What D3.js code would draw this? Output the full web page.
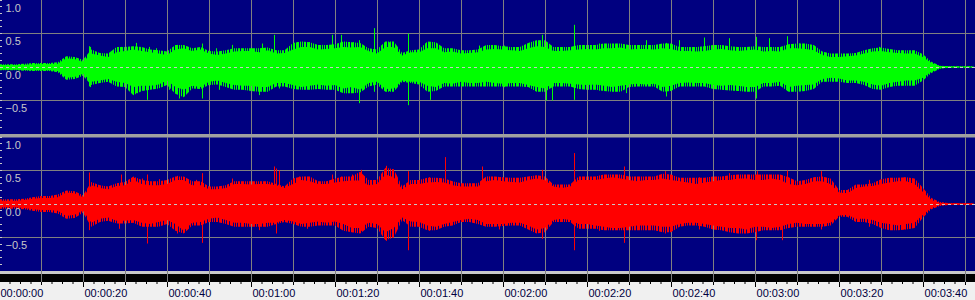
<!DOCTYPE html>
<html><head><meta charset="utf-8">
<script src="https://cdn.jsdelivr.net/npm/d3@7"></script>
<style>html,body{margin:0;padding:0;background:#f0f0f0;overflow:hidden}svg{display:block}</style>
</head><body><svg id="c" width="975" height="300"></svg>
<script>
// ---- DATA ----
const binSeconds = 2; // envelope sample spacing, seconds (t = 0..232)
// dense body of the waveform
const greenTop = [
 0.03,0.03,0.03,0.035,0.04,0.045,0.045,0.05,0.13,0.12,
 0.08,0.2,0.17,0.15,0.22,0.24,0.26,0.24,0.22,0.2,
 0.18,0.26,0.28,0.24,0.26,0.2,0.18,0.2,0.23,0.24,
 0.24,0.22,0.25,0.2,0.21,0.26,0.3,0.3,0.26,0.27,
 0.28,0.3,0.29,0.3,0.24,0.2,0.3,0.3,0.17,0.22,
 0.22,0.28,0.28,0.22,0.23,0.2,0.21,0.22,0.26,0.27,
 0.26,0.25,0.24,0.28,0.31,0.3,0.24,0.24,0.25,0.26,
 0.27,0.26,0.28,0.28,0.29,0.26,0.27,0.27,0.26,0.28,
 0.27,0.24,0.24,0.23,0.24,0.26,0.27,0.25,0.24,0.25,
 0.26,0.23,0.24,0.23,0.28,0.28,0.27,0.25,0.18,0.15,
 0.15,0.16,0.17,0.2,0.23,0.24,0.22,0.21,0.2,0.2,
 0.15,0.06,0.015,0.01,0.008,0.008,0.008];
const greenBottom = [
 -0.04,-0.04,-0.04,-0.045,-0.05,-0.05,-0.05,-0.06,-0.16,-0.15,
 -0.1,-0.22,-0.2,-0.18,-0.22,-0.24,-0.3,-0.28,-0.28,-0.26,
 -0.2,-0.3,-0.34,-0.28,-0.3,-0.22,-0.2,-0.24,-0.27,-0.28,
 -0.28,-0.3,-0.3,-0.24,-0.24,-0.27,-0.3,-0.28,-0.26,-0.28,
 -0.27,-0.32,-0.3,-0.34,-0.24,-0.22,-0.33,-0.32,-0.2,-0.22,
 -0.22,-0.28,-0.3,-0.24,-0.25,-0.22,-0.24,-0.24,-0.22,-0.24,
 -0.25,-0.24,-0.24,-0.27,-0.3,-0.32,-0.24,-0.24,-0.25,-0.26,
 -0.27,-0.26,-0.28,-0.3,-0.28,-0.26,-0.25,-0.26,-0.25,-0.3,
 -0.28,-0.24,-0.23,-0.24,-0.24,-0.27,-0.28,-0.27,-0.28,-0.3,
 -0.3,-0.24,-0.24,-0.22,-0.3,-0.28,-0.27,-0.26,-0.18,-0.16,
 -0.17,-0.2,-0.2,-0.22,-0.26,-0.28,-0.24,-0.22,-0.2,-0.2,
 -0.16,-0.07,-0.02,-0.01,-0.008,-0.008,-0.008];
const redTop = [
 0.05,0.05,0.05,0.06,0.08,0.09,0.09,0.1,0.17,0.16,
 0.1,0.28,0.24,0.22,0.27,0.28,0.36,0.3,0.28,0.28,
 0.3,0.36,0.36,0.28,0.28,0.22,0.22,0.24,0.3,0.3,
 0.29,0.3,0.3,0.28,0.24,0.3,0.36,0.34,0.3,0.3,
 0.32,0.34,0.35,0.35,0.28,0.3,0.44,0.4,0.22,0.3,
 0.3,0.32,0.33,0.32,0.28,0.26,0.26,0.26,0.34,0.36,
 0.34,0.33,0.32,0.36,0.38,0.36,0.26,0.24,0.26,0.36,
 0.36,0.36,0.38,0.4,0.38,0.36,0.34,0.36,0.36,0.38,
 0.36,0.34,0.32,0.3,0.32,0.34,0.36,0.36,0.38,0.38,
 0.36,0.36,0.38,0.36,0.3,0.28,0.3,0.34,0.34,0.3,
 0.17,0.16,0.24,0.26,0.27,0.3,0.32,0.34,0.34,0.3,
 0.18,0.06,0.02,0.01,0.01,0.01,0.01];
const redBottom = [
 -0.05,-0.05,-0.05,-0.06,-0.08,-0.09,-0.09,-0.1,-0.18,-0.16,
 -0.1,-0.28,-0.22,-0.2,-0.25,-0.25,-0.24,-0.28,-0.3,-0.27,
 -0.24,-0.3,-0.4,-0.28,-0.27,-0.22,-0.2,-0.24,-0.28,-0.28,
 -0.3,-0.3,-0.28,-0.28,-0.24,-0.26,-0.3,-0.28,-0.26,-0.28,
 -0.26,-0.3,-0.36,-0.36,-0.28,-0.3,-0.42,-0.36,-0.2,-0.26,
 -0.27,-0.32,-0.34,-0.3,-0.27,-0.24,-0.22,-0.24,-0.3,-0.3,
 -0.3,-0.28,-0.28,-0.32,-0.38,-0.36,-0.24,-0.22,-0.24,-0.3,
 -0.3,-0.32,-0.34,-0.36,-0.36,-0.34,-0.32,-0.32,-0.32,-0.34,
 -0.34,-0.3,-0.28,-0.28,-0.3,-0.32,-0.34,-0.36,-0.36,-0.38,
 -0.34,-0.34,-0.36,-0.34,-0.3,-0.28,-0.3,-0.3,-0.3,-0.28,
 -0.17,-0.16,-0.22,-0.22,-0.24,-0.28,-0.3,-0.32,-0.3,-0.28,
 -0.16,-0.06,-0.02,-0.01,-0.01,-0.01,-0.01];
// outer (sparse) peak envelope
const greenPeakTop = [
 0.04,0.04,0.04,0.05,0.06,0.06,0.06,0.07,0.16,0.15,
 0.11,0.26,0.21,0.2,0.3,0.3,0.31,0.3,0.26,0.25,
 0.23,0.33,0.33,0.28,0.3,0.24,0.23,0.25,0.28,0.28,
 0.28,0.28,0.29,0.25,0.25,0.36,0.38,0.37,0.33,0.33,
 0.34,0.38,0.37,0.36,0.28,0.26,0.38,0.38,0.21,0.25,
 0.26,0.38,0.37,0.28,0.28,0.25,0.25,0.26,0.33,0.33,
 0.31,0.3,0.3,0.36,0.4,0.4,0.3,0.3,0.3,0.33,
 0.33,0.33,0.35,0.35,0.35,0.33,0.33,0.33,0.33,0.35,
 0.35,0.3,0.3,0.3,0.31,0.33,0.33,0.31,0.3,0.3,
 0.31,0.3,0.3,0.3,0.34,0.35,0.35,0.33,0.23,0.2,
 0.2,0.2,0.21,0.25,0.28,0.29,0.27,0.25,0.25,0.25,
 0.19,0.08,0.02,0.012,0.01,0.01,0.01];
const greenPeakBottom = [
 -0.05,-0.05,-0.05,-0.055,-0.06,-0.06,-0.06,-0.08,-0.19,-0.18,
 -0.13,-0.27,-0.24,-0.22,-0.29,-0.3,-0.42,-0.36,-0.34,-0.32,
 -0.27,-0.4,-0.45,-0.32,-0.33,-0.27,-0.26,-0.3,-0.34,-0.34,
 -0.36,-0.37,-0.37,-0.29,-0.29,-0.33,-0.34,-0.34,-0.33,-0.34,
 -0.34,-0.39,-0.39,-0.38,-0.29,-0.26,-0.37,-0.37,-0.22,-0.24,
 -0.26,-0.37,-0.36,-0.29,-0.29,-0.29,-0.29,-0.29,-0.29,-0.29,
 -0.29,-0.29,-0.29,-0.3,-0.37,-0.37,-0.29,-0.29,-0.29,-0.33,
 -0.34,-0.34,-0.36,-0.37,-0.37,-0.3,-0.29,-0.29,-0.29,-0.37,
 -0.36,-0.29,-0.29,-0.29,-0.29,-0.33,-0.34,-0.35,-0.36,-0.37,
 -0.37,-0.29,-0.29,-0.28,-0.37,-0.37,-0.36,-0.33,-0.22,-0.22,
 -0.22,-0.24,-0.24,-0.27,-0.33,-0.34,-0.3,-0.28,-0.28,-0.28,
 -0.2,-0.09,-0.025,-0.012,-0.01,-0.01,-0.01];
const redPeakTop = [
 0.07,0.07,0.07,0.08,0.1,0.12,0.12,0.14,0.2,0.19,
 0.13,0.33,0.28,0.26,0.31,0.33,0.41,0.36,0.34,0.34,
 0.36,0.41,0.41,0.34,0.34,0.26,0.26,0.28,0.34,0.34,
 0.34,0.34,0.34,0.3,0.26,0.38,0.41,0.41,0.34,0.34,
 0.38,0.41,0.41,0.48,0.36,0.36,0.54,0.52,0.26,0.36,
 0.36,0.39,0.39,0.38,0.34,0.31,0.31,0.31,0.41,0.41,
 0.4,0.39,0.39,0.41,0.43,0.41,0.29,0.29,0.29,0.41,
 0.41,0.41,0.44,0.44,0.44,0.41,0.41,0.41,0.41,0.45,
 0.44,0.39,0.39,0.39,0.39,0.41,0.41,0.43,0.44,0.44,
 0.44,0.44,0.44,0.44,0.4,0.34,0.36,0.4,0.41,0.38,
 0.21,0.21,0.29,0.29,0.31,0.37,0.39,0.39,0.4,0.38,
 0.24,0.09,0.03,0.015,0.012,0.012,0.012];
const redPeakBottom = [
 -0.07,-0.07,-0.07,-0.08,-0.1,-0.12,-0.12,-0.14,-0.22,-0.21,
 -0.13,-0.34,-0.27,-0.25,-0.29,-0.29,-0.28,-0.34,-0.34,-0.34,
 -0.3,-0.4,-0.44,-0.32,-0.32,-0.27,-0.27,-0.3,-0.34,-0.34,
 -0.34,-0.34,-0.34,-0.3,-0.27,-0.3,-0.34,-0.34,-0.32,-0.32,
 -0.32,-0.4,-0.42,-0.44,-0.34,-0.36,-0.54,-0.5,-0.24,-0.34,
 -0.34,-0.39,-0.39,-0.34,-0.32,-0.27,-0.27,-0.3,-0.34,-0.34,
 -0.33,-0.32,-0.32,-0.38,-0.44,-0.42,-0.27,-0.27,-0.27,-0.37,
 -0.37,-0.37,-0.39,-0.39,-0.39,-0.39,-0.39,-0.39,-0.39,-0.42,
 -0.42,-0.34,-0.32,-0.32,-0.34,-0.38,-0.39,-0.42,-0.44,-0.44,
 -0.42,-0.39,-0.39,-0.39,-0.36,-0.34,-0.34,-0.34,-0.34,-0.32,
 -0.19,-0.19,-0.27,-0.27,-0.3,-0.36,-0.39,-0.39,-0.38,-0.36,
 -0.2,-0.08,-0.03,-0.015,-0.012,-0.012,-0.012];
// individual peaks: [seconds, top, bottom]
const greenSpikes = [
 [21.4,0.31,-0.29],[21.7,0.3,-0.3],[26.9,0.25,null],[29.0,0.3,null],[31.0,0.3,null],
 [32.6,0.36,-0.39],[35.2,0.22,-0.49],[35.7,0.3,null],[37.4,0.28,null],[40.5,null,-0.34],
 [42.4,0.33,-0.4],[42.9,null,-0.47],[44.8,0.3,null],[48.3,0.35,-0.47],[51.7,0.28,null],
 [52.4,null,-0.34],[55.5,0.33,null],[60.0,0.28,null],[61.9,null,-0.42],[62.6,0.35,null],
 [65.5,0.48,null],[66.7,null,-0.32],[71.0,0.37,null],[73.8,0.37,null],[75.5,null,-0.32],
 [76.9,0.33,null],[79.3,0.48,null],[81.4,0.48,null],[83.3,0.37,null],[84.3,0.37,-0.39],
 [85.7,0.4,-0.54],[89.3,0.58,-0.37],[92.9,0.37,-0.36],[97.4,0.5,-0.57],[102.6,0.35,-0.49],
 [114.3,0.32,null],[120.2,0.32,-0.3],[126.2,0.36,null],[129.3,0.48,null],[130.2,null,-0.5],
 [131.7,null,-0.5],[136.9,0.63,-0.49],[142.9,0.35,-0.35],[149.3,null,-0.39],[154.0,0.4,null],
 [158.8,0.36,-0.44],[161.9,0.4,null],[167.9,0.44,null],[173.8,0.43,-0.33],[180.2,0.45,-0.47],
 [183.3,0.43,null],[187.6,0.46,-0.36],[190.5,0.35,-0.36],[209.5,0.3,-0.33]];
const redSpikes = [
 [21.4,0.47,-0.39],[28.6,null,-0.37],[29.0,0.44,null],[32.1,0.39,null],[34.0,0.38,null],
 [35.2,0.44,-0.59],[38.1,0.37,null],[42.4,0.42,-0.44],[46.9,0.36,null],[48.3,0.46,-0.58],
 [55.5,0.38,null],[61.9,null,-0.39],[65.5,0.56,null],[66.0,0.53,-0.44],[66.7,0.5,null],
 [71.4,0.41,null],[73.3,null,-0.37],[79.3,0.44,null],[81.4,0.41,null],[84.0,0.44,-0.42],
 [86.2,0.51,-0.4],[92.1,0.57,-0.55],[97.4,0.49,-0.69],[102.4,0.4,-0.4],[106.2,0.7,null],
 [115.0,0.56,null],[119.0,0.4,-0.38],[129.3,0.51,-0.52],[136.9,0.76,-0.69],[142.9,0.42,-0.4],
 [148.8,0.56,-0.58],[158.6,0.49,-0.44],[166.7,0.4,-0.38],[173.8,0.46,-0.42],[180.2,null,-0.54],
 [180.5,0.49,null],[186.4,null,-0.54],[187.6,0.5,null],[195.7,0.49,-0.38],[207.1,0.36,-0.34],
 [215.5,0.4,-0.38]];
const ampLabels = [1.0, 0.5, 0.0, -0.5];
const ampGrid = [0.5, -0.5];
const ampMinor = [1.0,0.9,0.8,0.7,0.6,0.5,0.4,0.3,0.2,0.1,0,-0.1,-0.2,-0.3,-0.4,-0.5,-0.6,-0.7,-0.8,-0.9];
const timeGrid = [10,20,30,40,50,60,70,80,90,100,110,120,130,140,150,160,170,180,190,200,210,220,230];
const timeMajor = [0,20,40,60,80,100,120,140,160,180,200,220];
const timeLabels = ["00:00:00","00:00:20","00:00:40","00:01:00","00:01:20","00:01:40","00:02:00","00:02:20","00:02:40","00:03:00","00:03:20","00:03:40"];
const timeMid = [10,30,50,70,90,110,130,150,170,190,210,230];
const timeMinor = [2.5,5,7.5,12.5,15,17.5,22.5,25,27.5,32.5,35,37.5,42.5,45,47.5,52.5,55,57.5,62.5,65,67.5,72.5,75,77.5,82.5,85,87.5,92.5,95,97.5,102.5,105,107.5,112.5,115,117.5,122.5,125,127.5,132.5,135,137.5,142.5,145,147.5,152.5,155,157.5,162.5,165,167.5,172.5,175,177.5,182.5,185,187.5,192.5,195,197.5,202.5,205,207.5,212.5,215,217.5,222.5,225,227.5,232.5];

// ---- DRAW ----
const W = 975;
const svg = d3.select("#c");
const x = d3.scaleLinear().domain([0, 232.14]).range([-1, W - 1]);
const panels = [
  {id:"g", y: d3.scaleLinear().domain([-1, 1]).range([134, 0]), top: greenTop, bot: greenBottom, ptop: greenPeakTop, pbot: greenPeakBottom, spikes: greenSpikes, color: "#00ff00", y0: 0, y1: 134},
  {id:"r", y: d3.scaleLinear().domain([-1, 1]).range([271, 137]), top: redTop, bot: redBottom, ptop: redPeakTop, pbot: redPeakBottom, spikes: redSpikes, color: "#ff0000", y0: 137, y1: 271}
];
const gridColor = "#808080";

// hair texture: irregular vertical strokes (a fill style for the sparse peak zone)
const defs = svg.append("defs");
panels.forEach(p => {
  const pat = defs.append("pattern").attr("id","hair-"+p.id).attr("patternUnits","userSpaceOnUse")
    .attr("width",11).attr("height",4);
  [[0,2],[3,1],[5,1],[7,2],[10,1]].forEach(s => {
    pat.append("rect").attr("x",s[0]).attr("y",0).attr("width",s[1]).attr("height",4).attr("fill",p.color);
  });
});

svg.append("rect").attr("x",0).attr("y",0).attr("width",W).attr("height",300).attr("fill","#f0f0f0");
panels.forEach(p => {
  svg.append("rect").attr("x",0).attr("y",p.y0).attr("width",W).attr("height",p.y1-p.y0).attr("fill","#000080");
});
svg.append("rect").attr("x",0).attr("y",134).attr("width",W).attr("height",3.5).attr("fill","#a0a0a0");
svg.append("rect").attr("x",0).attr("y",271).attr("width",W).attr("height",3).attr("fill","#c8c8c8");
svg.append("rect").attr("x",0).attr("y",274).attr("width",W).attr("height",8).attr("fill","#000000");

panels.forEach(p => {
  const g = svg.append("g");
  g.selectAll("line.h").data(ampGrid).join("line")
    .attr("x1",0).attr("x2",W)
    .attr("y1",d=>Math.floor(p.y(d))+0.5).attr("y2",d=>Math.floor(p.y(d))+0.5)
    .attr("stroke",gridColor).attr("stroke-width",1);
  g.selectAll("line.v").data(timeGrid).join("line")
    .attr("x1",d=>Math.round(x(d))+0.5).attr("x2",d=>Math.round(x(d))+0.5)
    .attr("y1",p.y0).attr("y2",p.y1)
    .attr("stroke",gridColor).attr("stroke-width",1);
});
svg.append("g").selectAll("line").data(timeGrid).join("line")
  .attr("x1",d=>Math.round(x(d))+0.5).attr("x2",d=>Math.round(x(d))+0.5)
  .attr("y1",271).attr("y2",282).attr("stroke",gridColor);

panels.forEach(p => {
  const pts = p.top.map((v,i)=>({t:i*binSeconds, hi:v, lo:p.bot[i], phi:p.ptop[i], plo:p.pbot[i]}));
  const outer = d3.area().x(d=>x(d.t)).y0(d=>p.y(d.plo)).y1(d=>p.y(d.phi));
  svg.append("path").datum(pts).attr("d",outer).attr("fill","url(#hair-"+p.id+")");
  const body = d3.area().x(d=>x(d.t)).y0(d=>p.y(d.lo)).y1(d=>p.y(d.hi));
  svg.append("path").datum(pts).attr("d",body).attr("fill",p.color);
  const sg = svg.append("g").attr("stroke",p.color).attr("stroke-width",1);
  p.spikes.forEach(s => {
    const sx = Math.round(x(s[0]))+0.5;
    if (s[1] !== null) sg.append("line").attr("x1",sx).attr("x2",sx).attr("y1",p.y(0)).attr("y2",p.y(s[1]));
    if (s[2] !== null) sg.append("line").attr("x1",sx).attr("x2",sx).attr("y1",p.y(0)).attr("y2",p.y(s[2]));
  });
  const cy = Math.floor(p.y(0)) + 0.5;
  svg.append("line").attr("x1",0).attr("x2",W).attr("y1",cy).attr("y2",cy)
    .attr("stroke","#c8c8c8").attr("stroke-width",1).attr("stroke-dasharray","3,3");
  svg.append("g").selectAll("line").data(ampMinor).join("line")
    .attr("x1",0).attr("x2",2)
    .attr("y1",d=>Math.floor(p.y(d))+0.5).attr("y2",d=>Math.floor(p.y(d))+0.5)
    .attr("stroke","#c8c8c8");
  const ax = d3.axisRight(p.y).tickValues(ampLabels).tickSize(0).tickFormat(d3.format(".1f"));
  const ag = svg.append("g").call(ax);
  ag.select(".domain").remove();
  ag.selectAll("text").attr("x",5.5).attr("dy",null).attr("y",11.3)
    .attr("text-anchor","start").attr("fill","#c8c8c8")
    .style("font-family","'Liberation Sans', Arial, sans-serif").style("font-size","11px");
});

function ruler(values, size){
  const a = d3.axisBottom(x).tickValues(values).tickSize(size).tickFormat("");
  const g = svg.append("g").attr("transform","translate(0,282)").call(a);
  g.select(".domain").remove();
  g.selectAll("line").attr("stroke","#000");
  return g;
}
ruler(timeMinor, 2);
ruler(timeMid, 3);
const mg = svg.append("g").attr("transform","translate(0,282)")
  .call(d3.axisBottom(x).tickValues(timeMajor).tickSize(5).tickFormat((d,i)=>timeLabels[i]));
mg.select(".domain").remove();
mg.selectAll("line").attr("stroke","#000");
mg.selectAll("text").attr("x",1).attr("y",14.5).attr("dy",null)
  .attr("text-anchor","start").attr("fill","#000040")
  .style("font-family","'Liberation Sans', Arial, sans-serif").style("font-size","11px");
</script></body></html>
